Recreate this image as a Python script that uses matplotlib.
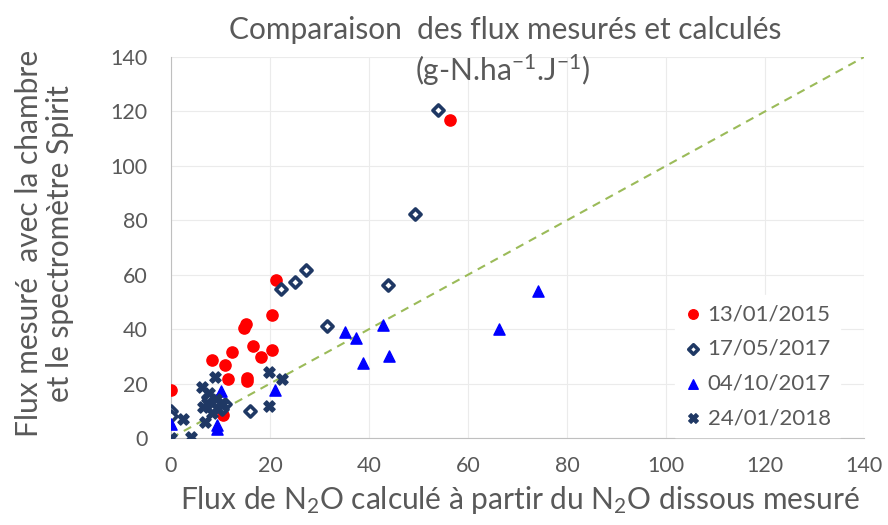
import matplotlib.pyplot as plt

plt.rcParams['font.family'] = ['Lato', 'DejaVu Sans']
plt.rcParams['mathtext.fontset'] = 'custom'
plt.rcParams['mathtext.rm'] = 'Lato'
plt.rcParams['mathtext.it'] = 'Lato:italic'
plt.rcParams['mathtext.default'] = 'rm'

# 13/01/2015
x_2015 = [0, 8.3, 10.9, 12.3, 14.7, 15.2, 15.3, 15.3, 16.6, 18.2, 20.4, 20.4, 21.2, 11.5, 10.4, 56.4]
y_2015 = [17.6, 28.7, 27.0, 31.6, 40.4, 41.9, 22.0, 20.8, 33.8, 29.8, 45.2, 32.5, 58.0, 21.5, 8.5, 117.0]

# 17/05/2017
x_may17 = [0, 0, 16.0, 22.2, 25.0, 27.3, 31.5, 43.8, 49.3, 53.9, 7.5, 9.0, 10.2, 8.0, 11.0]
y_may17 = [10.0, 8.0, 10.0, 54.6, 57.4, 61.8, 41.2, 56.2, 82.3, 120.5, 15.0, 13.5, 10.5, 11.5, 12.5]

# 04/10/2017
x_oct17 = [0, 9.3, 9.3, 10.1, 21.0, 35.2, 37.4, 38.8, 42.8, 44.1, 66.3, 74.1]
y_oct17 = [5.0, 4.8, 3.2, 17.4, 17.6, 39.0, 36.8, 27.4, 41.5, 30.1, 40.0, 54.0]

# 24/01/2018
x_2018 = [0, 4.0, 2.4, 19.8, 22.4, 19.8, 8.9, 6.3, 7.7, 7.3, 6.5, 9.5, 6.9, 8.3, 10.5, 9.0]
y_2018 = [0, 0.4, 7.0, 24.3, 21.7, 11.8, 22.4, 18.8, 16.5, 12.9, 11.4, 10.7, 5.9, 9.2, 12.5, 14.5]

ticks = [0, 20, 40, 60, 80, 100, 120, 140]
grey = '#595959'
navy = '#1F3864'

fig = plt.figure(figsize=(8.88, 5.25), dpi=100)
ax = fig.add_axes([0.1926, 0.1657, 0.7804, 0.7257])

# 1:1 line
ax.plot([0, 140], [0, 140], ls='--', color='#9BBB59', lw=1.5, dashes=(4, 3), zorder=1)

ax.scatter(x_2015, y_2015, s=65, marker='o', color='#FF0000', label='13/01/2015', zorder=3)
ax.scatter(x_may17, y_may17, s=32, marker='D', facecolor='white', edgecolor=navy,
           linewidths=2.6, label='17/05/2017', zorder=3)
ax.scatter(x_oct17, y_oct17, s=65, marker='^', color='#0000FF', label='04/10/2017', zorder=3)
ax.scatter(x_2018, y_2018, s=65, marker='X', color=navy, label='24/01/2018', zorder=3)

ax.set_xlim(0, 140)
ax.set_ylim(0, 140)
ax.set_xticks(ticks)
ax.set_yticks(ticks)
ax.grid(True, color='#EBEBEB', lw=0.8)
ax.set_axisbelow(True)
ax.tick_params(length=0, labelsize=15.5, labelcolor=grey)
ax.tick_params(axis='y', pad=17)
ax.tick_params(axis='x', pad=13)
for s in ['top', 'right']:
    ax.spines[s].set_visible(False)
for s in ['left', 'bottom']:
    ax.spines[s].set_color('#BFBFBF')

leg = ax.legend(loc='upper left', bbox_to_anchor=(0.748, 0.459), bbox_transform=fig.transFigure,
                fontsize=16, frameon=True, framealpha=1, edgecolor='white', fancybox=False,
                labelcolor=grey, handletextpad=0.25, labelspacing=0.66, handlelength=0.8,
                borderpad=0.4, markerscale=0.85)

fig.text(0.569, 0.943, 'Comparaison  des flux mesurés et calculés', ha='center', va='center',
         fontsize=21.5, color=grey)
fig.text(0.566, 0.866, '(g-N.ha$^{-1}$.J$^{-1}$)', ha='center', va='center',
         fontsize=21.5, color=grey)

fig.text(0.585, 0.048, 'Flux de N$_2$O calculé à partir du N$_2$O dissous mesuré',
         ha='center', va='center', fontsize=21.5, color=grey)
fig.text(0.050, 0.537, 'Flux mesuré  avec la chambre\net le spectromètre Spirit',
         ha='center', va='center', rotation=90, fontsize=21.5, color=grey, linespacing=1.1)

fig.savefig('out.png', dpi=100)
